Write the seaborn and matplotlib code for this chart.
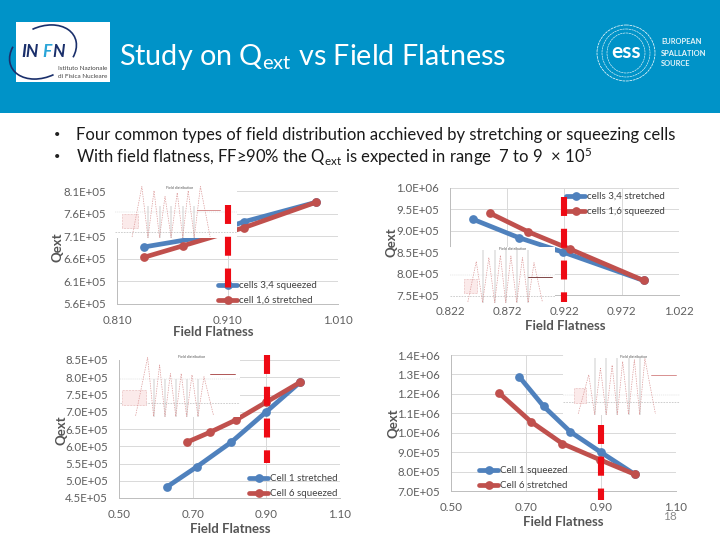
import matplotlib
matplotlib.use("Agg")
import matplotlib.pyplot as plt
from matplotlib.patches import Rectangle, Arc, Ellipse
import pandas as pd
import seaborn as sns

# ---- data ----
c1_x_a = [0.834, 0.880, 0.925, 0.990]
c1_y_a = [6.86e5, 7.05e5, 7.42e5, 7.85e5]
c1_x_b = [0.834, 0.870, 0.925, 0.990]
c1_y_b = [6.63e5, 6.89e5, 7.29e5, 7.85e5]
c1_names = ["cells 3,4 squeezed", "cell 1,6 stretched"]
c1_yticks = [5.6e5, 6.1e5, 6.6e5, 7.1e5, 7.6e5, 8.1e5]
c1_xticks = [0.81, 0.91, 1.01]
c1_xlabels = ["0.810", "0.910", "1.010"]

c2_x_a = [0.842, 0.882, 0.921, 0.991]
c2_y_a = [9.27e5, 8.84e5, 8.50e5, 7.84e5]
c2_x_b = [0.857, 0.890, 0.927, 0.991]
c2_y_b = [9.41e5, 8.98e5, 8.57e5, 7.84e5]
c2_names = ["cells 3,4 stretched", "cells 1,6 squeezed"]
c2_yticks = [7.5e5, 8.0e5, 8.5e5, 9.0e5, 9.5e5, 1.0e6]
c2_xticks = [0.822, 0.872, 0.922, 0.972, 1.022]
c2_xlabels = ["0.822", "0.872", "0.922", "0.972", "1.022"]

c3_x_a = [0.630, 0.712, 0.805, 0.900, 0.991]
c3_y_a = [4.82e5, 5.41e5, 6.12e5, 7.00e5, 7.85e5]
c3_x_b = [0.685, 0.748, 0.819, 0.900, 0.991]
c3_y_b = [6.12e5, 6.41e5, 6.77e5, 7.28e5, 7.85e5]
c3_names = ["Cell 1 stretched", "Cell 6 squeezed"]
c3_yticks = [4.5e5, 5.0e5, 5.5e5, 6.0e5, 6.5e5, 7.0e5, 7.5e5, 8.0e5, 8.5e5]
c3_xticks = [0.5, 0.7, 0.9, 1.1]
c3_xlabels = ["0.50", "0.70", "0.90", "1.10"]

c4_x_a = [0.682, 0.747, 0.818, 0.900, 0.990]
c4_y_a = [1.288e6, 1.136e6, 1.005e6, 8.99e5, 7.86e5]
c4_x_b = [0.629, 0.713, 0.797, 0.898, 0.990]
c4_y_b = [1.203e6, 1.057e6, 9.44e5, 8.60e5, 7.86e5]
c4_names = ["Cell 1 squeezed", "Cell 6 stretched"]
c4_yticks = [7e5, 8e5, 9e5, 1.0e6, 1.1e6, 1.2e6, 1.3e6, 1.4e6]
c4_xticks = [0.5, 0.7, 0.9, 1.1]
c4_xlabels = ["0.50", "0.70", "0.90", "1.10"]

# field-profile thumbnails: peak and trough vertices, fractions of the thumbnail
i1_x = [.14, .22, .27, .32, .365, .41, .46, .51, .555, .60, .65, .70, .78]
i1_y = [.02, .99, .01, .91, .01, .80, .01, .87, .01, .91, .01, .99, .02]
i2_x = [.17, .25, .31, .37, .425, .48, .53, .58, .635, .69, .745, .80, .88]
i2_y = [.02, .74, .01, .81, .01, .85, .01, .84, .01, .81, .01, .72, .02]
i3_x = [.13, .23, .28, .33, .375, .42, .465, .51, .555, .60, .65, .70, .78]
i3_y = [.02, .96, .01, .84, .01, .70, .01, .70, .01, .68, .01, .65, .02]
i4_x = [.13, .22, .27, .32, .37, .42, .465, .51, .56, .61, .655, .70, .79]
i4_y = [.02, .67, .01, .78, .01, .83, .01, .89, .01, .92, .01, .94, .02]

# ---- style ----
sns.set_theme(style="white")
plt.rcParams["font.family"] = ["Lato", "DejaVu Sans"]
plt.rcParams["mathtext.fontset"] = "custom"
plt.rcParams["mathtext.rm"] = "Lato"
plt.rcParams["mathtext.default"] = "regular"

BLUE, RED, BAND = "#4F81BD", "#C0504D", "#0093C8"
GREY, LABEL = "#5f5f5f", "#555555"

fig = plt.figure(figsize=(7.2, 5.4), dpi=100, facecolor="white")


def pos(l, t, r, b):
    return [l / 720, 1 - b / 540, (r - l) / 720, (b - t) / 540]


ov = fig.add_axes([0, 0, 1, 1], zorder=20)
ov.set_xlim(0, 720)
ov.set_ylim(540, 0)
ov.axis("off")
ov.patch.set_alpha(0)


def chart(box, xlim, ylim, xticks, xlabels, yticks, xa, ya, xb, yb, names,
          leg_xy, ylab_xy, xlab_xy, ins, ix, iy, ins_style, dash):
    ax = fig.add_axes(pos(*box), zorder=1)
    df = pd.concat([
        pd.DataFrame({"ff": xa, "q": ya, "s": names[0]}),
        pd.DataFrame({"ff": xb, "q": yb, "s": names[1]}),
    ])
    sns.lineplot(data=df, x="ff", y="q", hue="s", palette=[BLUE, RED], sort=False,
                 marker="o", markersize=6.3, markeredgewidth=0, linewidth=3.4,
                 ax=ax, clip_on=False, estimator=None, errorbar=None)
    ax.set_xlim(*xlim)
    ax.set_ylim(*ylim)
    ax.set_xticks(xticks, xlabels)
    ax.set_yticks(yticks, [f"{v:.1E}" for v in yticks])
    ax.tick_params(axis="y", length=0, labelsize=8.3, labelcolor=GREY, pad=8)
    ax.tick_params(axis="x", length=0, labelsize=8.3, labelcolor=GREY, pad=8)
    ax.grid(True, color="#d9d9d9", lw=0.7)
    ax.set_axisbelow(True)
    for s in ("top", "right"):
        ax.spines[s].set_visible(False)
    for s in ("left", "bottom"):
        ax.spines[s].set_color("#bdbdbd")
        ax.spines[s].set_linewidth(0.7)
    ax.set_xlabel("Field Flatness", fontsize=9.5, fontweight="bold", color=LABEL, va="center")
    ax.set_ylabel("Qext", fontsize=9.5, fontweight="bold", color=LABEL, va="center")
    ax.xaxis.set_label_coords(*xlab_xy, transform=ov.transData)
    ax.yaxis.set_label_coords(*ylab_xy, transform=ov.transData)
    handles, labels = ax.get_legend_handles_labels()
    ax.legend(handles, labels, loc="upper left", frameon=False,
              bbox_to_anchor=(leg_xy[0], leg_xy[1]), bbox_transform=ov.transData,
              fontsize=7.0, labelcolor="#404040", borderpad=0, borderaxespad=0,
              handlelength=2.0, handletextpad=0.2, labelspacing=0.62)

    # field-profile thumbnail pasted over the plot
    ia = fig.add_axes(pos(*ins), zorder=5, facecolor="white")
    ia.add_patch(Rectangle((0, 0), 1, 1, color="white", zorder=0))
    ia.vlines(ix[2::2][:5], 0, ins_style["vh"], color="#999999", lw=0.35, zorder=1)
    ia.axhline(ins_style["hl"], color="#aaaaaa", lw=0.4, ls=(0, (3, 2)), zorder=1)
    ia.axhline(ins_style["hl2"], color="#cccccc", lw=0.3, ls=(0, (3, 2)), zorder=1)
    sns.lineplot(x=ix, y=iy, sort=False, color="#dc9a9a", lw=0.5, ls=(0, (2, 1.5)),
                 ax=ia, estimator=None, errorbar=None)
    ia.set_xlim(0, 1)
    ia.set_ylim(0, 1)
    ia.axis("off")
    bx, by, bw, bh = ins_style["box"]
    ia.add_patch(Rectangle((bx, by), bw, bh, fc="#fbeaea", ec="#d27f7f", lw=0.4, ls=":"))
    rx0, rx1, ry = ins_style["rl"]
    ia.plot([rx0, rx1], [ry, ry], color=ins_style["rc"], lw=0.6)
    ia.text(ins_style["tx"], 0.965, "Field distribution", fontsize=2.6, color="#555555",
            ha="center", va="center")

    # dashed 90 % marker, above the thumbnail
    top = fig.add_axes(pos(*box), zorder=10)
    top.set_xlim(*xlim)
    top.set_ylim(*ylim)
    top.axis("off")
    top.patch.set_alpha(0)
    top.plot([dash[0], dash[0]], [dash[1], dash[2]], color="#EE0A14", lw=4.4,
             ls=(0, (3.1, 2.1)), dash_capstyle="butt", clip_on=False)
    return ax


chart((117, 191, 338, 304), (0.81, 1.01), (5.6e5, 8.1e5), c1_xticks, c1_xlabels, c1_yticks,
      c1_x_a, c1_y_a, c1_x_b, c1_y_b, c1_names, (218, 281), (57, 247), (213, 332),
      (115, 186, 237, 238), i1_x, i1_y,
      dict(vh=.62, hl=.11, hl2=.5, box=(.055, .19, .13, .28), rl=(.67, .86, .53), rc="#d27f7f", tx=.53),
      (0.91, 7.78e5, 5.85e5))
chart((450, 188, 679, 295), (0.822, 1.022), (7.5e5, 1.0e6), c2_xticks, c2_xlabels, c2_yticks,
      c2_x_a, c2_y_a, c2_x_b, c2_y_b, c2_names, (566, 192), (392, 242), (565, 326),
      (450, 247, 555, 303), i2_x, i2_y,
      dict(vh=.95, hl=.12, hl2=.5, box=(.13, .17, .13, .25), rl=(.74, .97, .47), rc="#6b2a2a", tx=.6),
      (0.922, 9.78e5, 7.34e5))
chart((119, 360, 340, 498), (0.5, 1.1), (4.5e5, 8.5e5), c3_xticks, c3_xlabels, c3_yticks,
      c3_x_a, c3_y_a, c3_x_b, c3_y_b, c3_names, (249, 474), (61, 430), (230, 529),
      (120, 355, 240, 417), i3_x, i3_y,
      dict(vh=.62, hl=.22, hl2=.62, box=(.015, .2, .2, .24), rl=(.75, .96, .7), rc="#a33a3a", tx=.6),
      (0.902, 8.64e5, 5.51e5))
chart((451, 355, 676, 491), (0.5, 1.1), (7e5, 1.4e6), c4_xticks, c4_xlabels, c4_yticks,
      c4_x_a, c4_y_a, c4_x_b, c4_y_b, c4_names, (479, 466), (394, 423), (563, 522),
      (563, 355, 680, 415), i4_x, i4_y,
      dict(vh=.95, hl=.22, hl2=.33, box=(.095, .2, .105, .25), rl=(.75, .97, .67), rc="#d27f7f", tx=.6),
      (0.90, 1.04e6, 6.54e5))

# ---- slide furniture ----
bg = fig.add_axes([0, 0, 1, 1], zorder=0)
bg.set_xlim(0, 720)
bg.set_ylim(540, 0)
bg.axis("off")
bg.add_patch(Rectangle((0, 0), 720, 113, color=BAND, lw=0))

# INFN logo
bg.add_patch(Rectangle((16, 22), 94, 60, color="white", lw=0))
bg.add_patch(Arc((43, 52), 70, 50, angle=-25, theta1=270, theta2=395, color="#1a2f6b", lw=1.2))
bg.add_patch(Arc((43, 52), 70, 50, angle=-25, theta1=90, theta2=215, color="#1a2f6b", lw=1.2))
ov.text(21, 52, "IN", fontsize=12.5, fontweight="bold", style="italic", color="#1a2f6b", va="center")
ov.text(42, 52, "F", fontsize=12.5, fontweight="bold", style="italic", color="#2aa5d8", va="center")
ov.text(52, 52, "N", fontsize=12.5, fontweight="bold", style="italic", color="#1a2f6b", va="center")
ov.text(58, 68, "Istituto Nazionale", fontsize=4.6, color="#444444", va="center")
ov.text(58, 76, "di Fisica Nucleare", fontsize=4.6, color="#444444", va="center")

# ESS logo
for w, h, lw_ in [(58, 56, 0.5), (48, 48, 0.4), (38, 40, 0.4)]:
    bg.add_patch(Ellipse((626, 53), w, h, fc="none", ec="white", lw=lw_, ls=(0, (4, 1))))
ov.text(626, 52, "ess", fontsize=15, fontweight="bold", color="white", ha="center", va="center")
for y, t in [(42, "EUROPEAN"), (53, "SPALLATION"), (63, "SOURCE")]:
    ov.text(661, y, t, fontsize=5.4, fontweight="bold", color="white", alpha=0.9, va="center")

ov.text(119, 57, r"Study on Q$_{ext}$ vs Field Flatness", fontsize=20.7, color="white", va="center")

ov.text(54, 135, "•", fontsize=8, color="#222222", va="center")
ov.text(54, 157, "•", fontsize=8, color="#222222", va="center")
ov.text(76, 135, "Four common types of field distribution acchieved by stretching or squeezing cells",
        fontsize=12, color="#1a1a1a", va="center")
ov.text(76, 157, r"With field flatness, FF≥90% the Q$_{ext}$ is expected in range  7 to 9  $\times$ 10$^{5}$",
        fontsize=12, color="#1a1a1a", va="center")
ov.text(670, 516, "18", fontsize=8.5, color="#8a8a8a", ha="center", va="center")

fig.savefig("out.png", dpi=100)
